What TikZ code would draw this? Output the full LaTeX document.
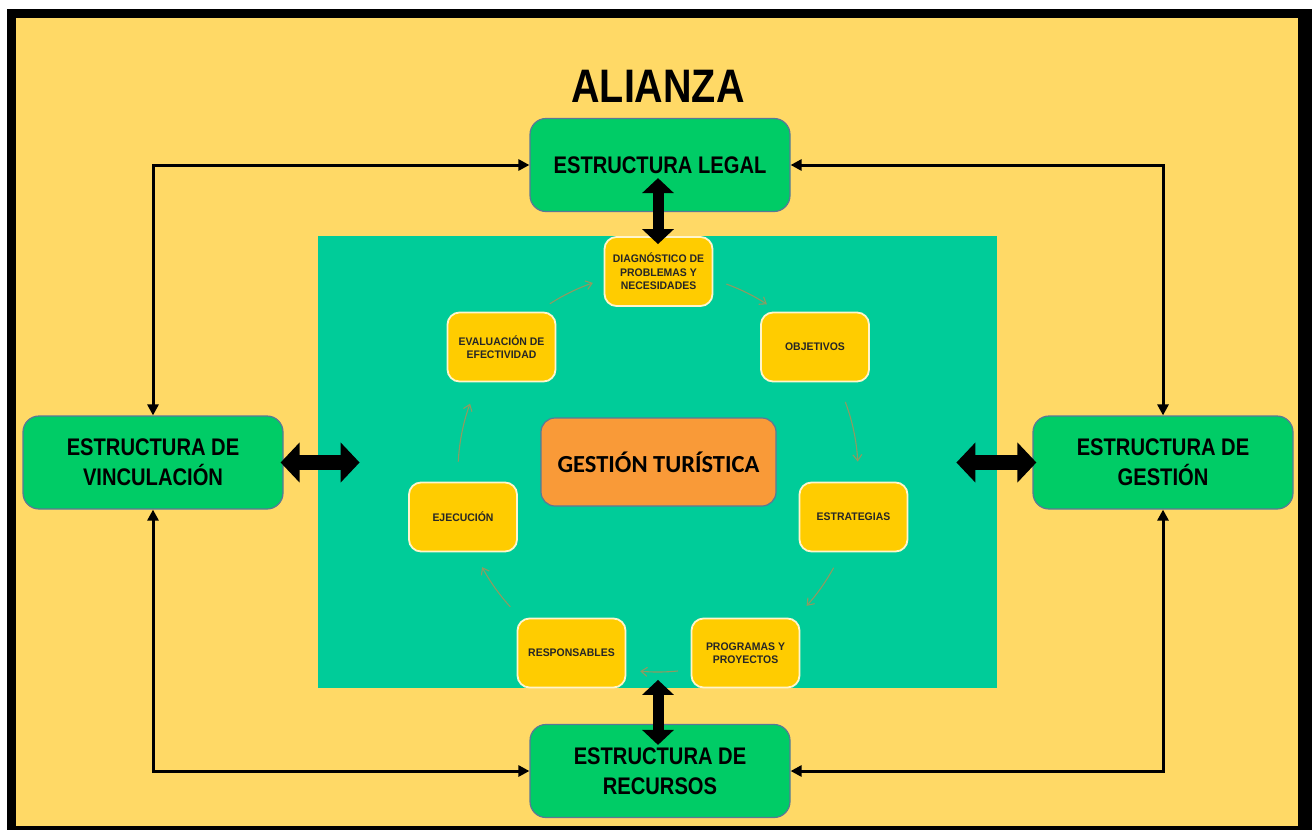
\documentclass[tikz,border=0pt]{standalone}
\usepackage{fontspec}
\setmainfont{Liberation Sans}
\newfontfamily\narrowf[FakeStretch=0.84]{Liberation Sans}
\newfontfamily\smallf[FakeStretch=0.95]{Liberation Sans}
\newfontfamily\calib{Carlito}
\usetikzlibrary{arrows.meta,calc}
\definecolor{bgyellow}{HTML}{FFD966}
\definecolor{tealbg}{HTML}{00CC99}
\definecolor{boxgreen}{HTML}{00CC66}
\definecolor{boxyellow}{HTML}{FFCC00}
\definecolor{boxorange}{HTML}{F99A38}
\definecolor{edgeblue}{HTML}{5B7896}
\definecolor{cyccol}{HTML}{8E9A62}
\begin{document}
\begin{tikzpicture}[x=1pt,y=-1pt,
  greenbox/.style={draw=edgeblue, line width=1.2pt, fill=boxgreen, rounded corners=16pt,
    minimum width=260pt, minimum height=93pt, inner sep=0pt, align=center,
    font=\narrowf\bfseries\fontsize{24}{30}\selectfont},
  ybox/.style={draw=white!80!boxyellow, line width=1.8pt, fill=boxyellow, rounded corners=12pt,
    minimum width=108pt, minimum height=69pt, inner sep=0pt, align=center,
    font=\smallf\bfseries\fontsize{11}{13.5}\selectfont, text=black!85},
  corebox/.style={draw=edgeblue, line width=1.2pt, fill=boxorange, rounded corners=14pt,
    minimum width=235pt, minimum height=88pt, inner sep=0pt, align=center,
    font=\calib\bfseries\fontsize{24.5}{28}\selectfont},
  link/.style={line width=3pt, {Triangle[length=11pt,width=11pt]}-{Triangle[length=11pt,width=11pt]}},
  fatv/.style={line width=11pt, {Triangle[length=15pt,width=31pt]}-{Triangle[length=15pt,width=31pt]}},
  fath/.style={line width=15pt, {Triangle[length=19pt,width=39pt]}-{Triangle[length=19pt,width=39pt]}},
  cycarrow/.style={draw=cyccol, line width=1.1pt, -{Straight Barb[length=6pt,width=9pt]}}
]
\useasboundingbox (0,0) rectangle (1312,830);
\fill[white] (0,0) rectangle (1312,830);
\fill[black] (7,9) rectangle (1312,830);
\fill[bgyellow] (16,18) rectangle (1298,826);
\fill[tealbg] (318,236) rectangle (997,688);

\node[font=\narrowf\bfseries\fontsize{47}{50}\selectfont] (title) at (658,86) {ALIANZA};

\node[greenbox] (leg) at (660,165) {ESTRUCTURA LEGAL};
\node[greenbox] (vin) at (153,462.5) {ESTRUCTURA DE\\VINCULACIÓN};
\node[greenbox] (gest) at (1163,462.5) {ESTRUCTURA DE\\GESTIÓN};
\node[greenbox] (rec) at (660,771) {ESTRUCTURA DE\\RECURSOS};

\node[corebox] (gt) at (658.5,462) {GESTIÓN TURÍSTICA};

\node[ybox] (diag) at (658.5,271.5) {DIAGNÓSTICO DE\\PROBLEMAS Y\\NECESIDADES};
\node[ybox] (eval) at (501.5,347) {EVALUACIÓN DE\\EFECTIVIDAD};
\node[ybox] (obj) at (815,347) {OBJETIVOS};
\node[ybox] (ejec) at (463,517) {EJECUCIÓN};
\node[ybox] (estr) at (853.5,517) {ESTRATEGIAS};
\node[ybox] (resp) at (571.5,653) {RESPONSABLES};
\node[ybox] (prog) at (745.5,653) {PROGRAMAS Y\\PROYECTOS};

\coordinate (cyc) at (658,472);
\foreach \a/\b in {-70/-57, -20.5/-3, 28.6/42, 84.3/95.1, 137.6/151.6, 183/200, 237.3/251}
  \draw[cycarrow] ([shift={(\a:200)}]cyc) arc[start angle=\a, end angle=\b, radius=200];

\draw[link] (leg.west) -| (vin.north);
\draw[link] (leg.east) -| (gest.north);
\draw[link] (vin.south) |- (rec.west);
\draw[link] (gest.south) |- (rec.east);

\draw[fatv] ($(leg.south)+(-2,-34)$) -- ($(diag.north)+(-0.5,8)$);
\draw[fatv] ($(rec.north)+(-2,-44)$) -- ($(rec.north)+(-2,21)$);
\draw[fath] ($(vin.east)+(-3,0)$) -- ($(vin.east)+(76,0)$);
\draw[fath] ($(gest.west)+(-76,0)$) -- ($(gest.west)+(4,0)$);
\end{tikzpicture}
\end{document}
